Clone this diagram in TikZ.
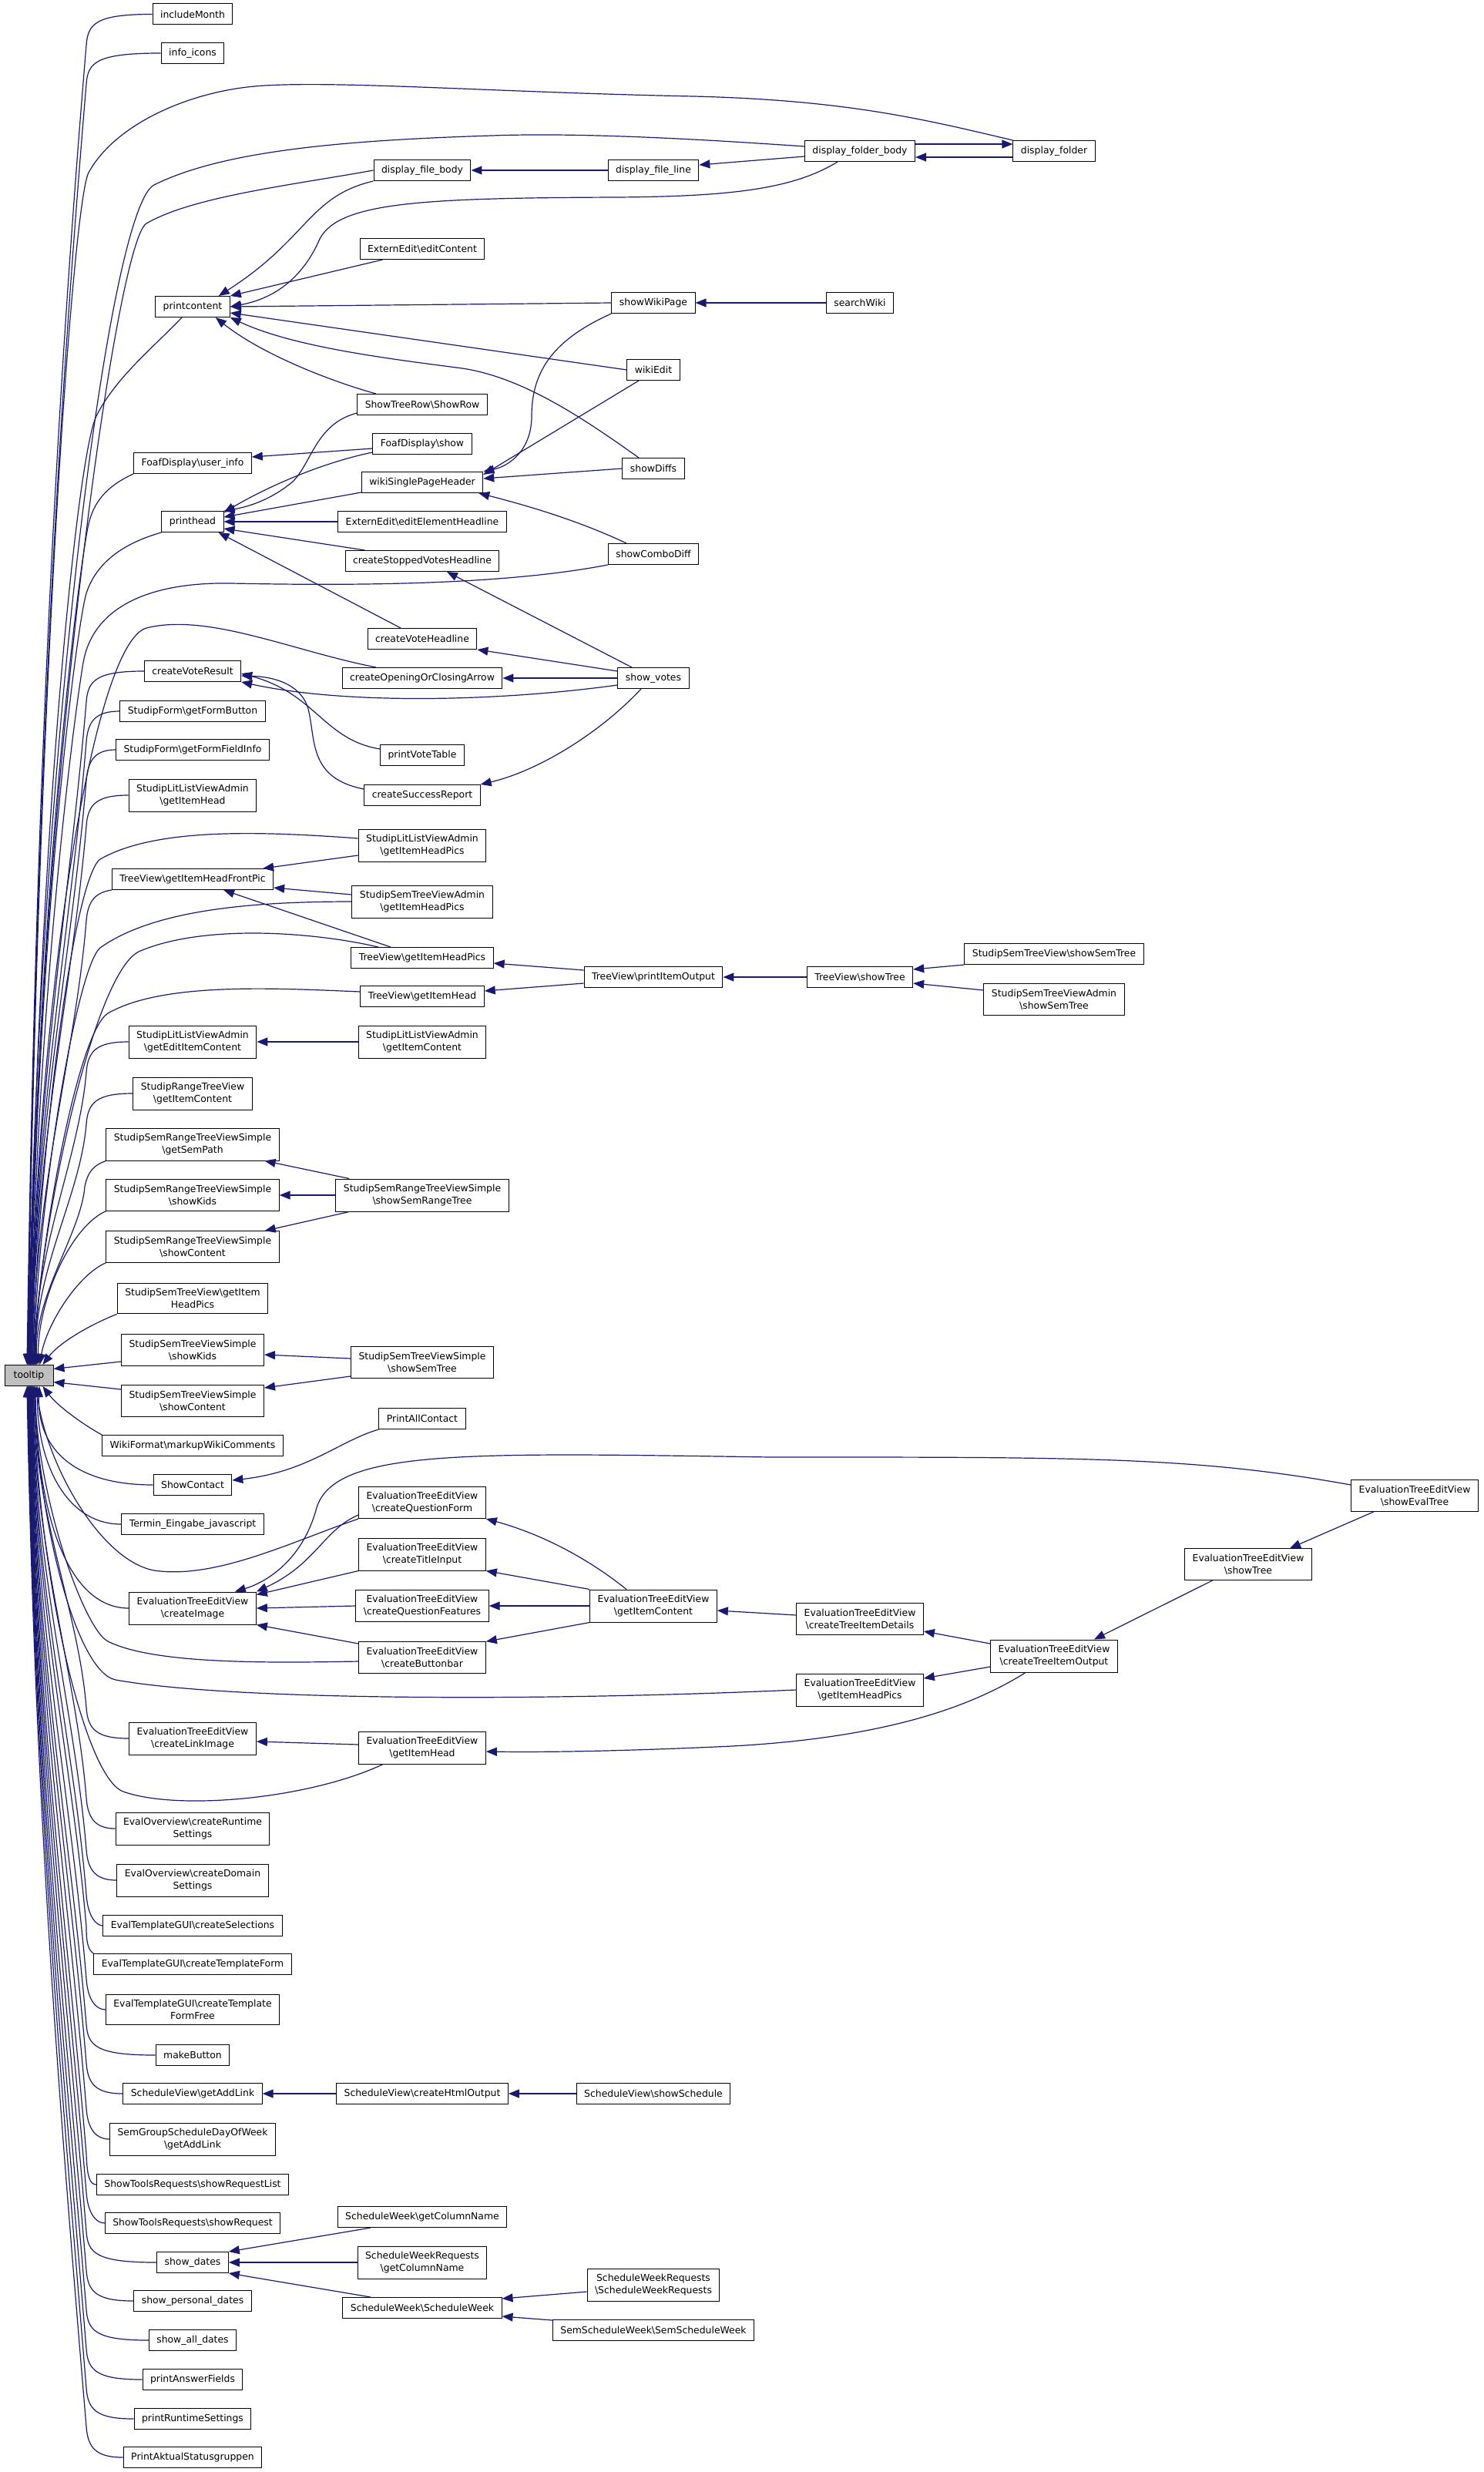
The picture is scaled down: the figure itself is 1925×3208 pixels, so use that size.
\documentclass[tikz,border=0pt]{standalone}
\usepackage{fontspec}
\setmainfont{DejaVu Sans}
\usetikzlibrary{arrows.meta}
\definecolor{edgeblue}{RGB}{25,25,112}
\definecolor{rootgray}{RGB}{191,191,191}
\newcommand{\bsl}{\textbackslash}

\begin{document}
\begin{tikzpicture}[x=1pt, y=1pt, every node/.style={font=\fontsize{12.4}{16}\selectfont},
  fn/.style={draw=black, fill=white, line width=1pt, inner xsep=10pt, inner ysep=7pt, minimum height=27pt, align=center},
  callarrow/.style={draw=edgeblue, line width=1.2pt, -{Triangle[length=14pt,width=11pt]}}]
\useasboundingbox (0,0) rectangle (1925,-3208);

\node[fn, fill=rootgray, minimum width=63pt] (tooltip) at (37.5,-1785) {tooltip};
\node[fn] (includeMonth) at (250,-18.5) {includeMonth};
\node[fn] (infoIcons) at (250,-69) {info\_icons};
\node[fn] (displayFolder) at (1368,-196) {display\_folder};
\node[fn] (displayFolderBody) at (1116,-196) {display\_folder\_body};
\node[fn] (displayFileBody) at (548,-221) {display\_file\_body};
\node[fn] (displayFileLine) at (848,-221) {display\_file\_line};
\node[fn] (editContent) at (548,-323) {ExternEdit\bsl editContent};
\node[fn] (printcontent) at (250,-398) {printcontent};
\node[fn] (showWikiPage) at (848,-393) {showWikiPage};
\node[fn] (searchWiki) at (1116,-393) {searchWiki};
\node[fn] (wikiEdit) at (848,-480) {wikiEdit};
\node[fn] (showRow) at (548,-525) {ShowTreeRow\bsl ShowRow};
\node[fn] (foafShow) at (548,-576) {FoafDisplay\bsl show};
\node[fn] (userInfo) at (250,-601) {FoafDisplay\bsl user\_info};
\node[fn] (showDiffs) at (848,-608) {showDiffs};
\node[fn] (wikiHeader) at (548,-626) {wikiSinglePageHeader};
\node[fn] (printhead) at (250,-677) {printhead};
\node[fn] (editHeadline) at (548,-677) {ExternEdit\bsl editElementHeadline};
\node[fn] (stoppedVotes) at (548,-728) {createStoppedVotesHeadline};
\node[fn] (showComboDiff) at (848,-719) {showComboDiff};
\node[fn] (voteHeadline) at (548,-829) {createVoteHeadline};
\node[fn] (voteResult) at (250,-871) {createVoteResult};
\node[fn] (openClose) at (548,-880) {createOpeningOrClosingArrow};
\node[fn] (showVotes) at (848,-880) {show\_votes};
\node[fn] (formButton) at (250,-923) {StudipForm\bsl getFormButton};
\node[fn] (formFieldInfo) at (250,-973) {StudipForm\bsl getFormFieldInfo};
\node[fn] (voteTable) at (548,-980) {printVoteTable};
\node[fn] (litItemHead) at (250,-1032) {StudipLitListViewAdmin\\\bsl getItemHead};
\node[fn] (successReport) at (548,-1032) {createSuccessReport};
\node[fn] (litHeadPics) at (548,-1097) {StudipLitListViewAdmin\\\bsl getItemHeadPics};
\node[fn] (frontPic) at (250,-1141) {TreeView\bsl getItemHeadFrontPic};
\node[fn] (semAdminHeadPics) at (548,-1170) {StudipSemTreeViewAdmin\\\bsl getItemHeadPics};
\node[fn] (treeHeadPics) at (548,-1243) {TreeView\bsl getItemHeadPics};
\node[fn] (printItemOutput) at (848,-1268) {TreeView\bsl printItemOutput};
\node[fn] (treeShowTree) at (1116,-1268) {TreeView\bsl showTree};
\node[fn] (semShowTree) at (1368,-1238) {StudipSemTreeView\bsl showSemTree};
\node[fn] (semAdminShowTree) at (1368,-1297) {StudipSemTreeViewAdmin\\\bsl showSemTree};
\node[fn] (treeItemHead) at (548,-1293) {TreeView\bsl getItemHead};
\node[fn] (litEditContent) at (250,-1352) {StudipLitListViewAdmin\\\bsl getEditItemContent};
\node[fn] (litItemContent) at (548,-1352) {StudipLitListViewAdmin\\\bsl getItemContent};
\node[fn] (rangeItemContent) at (250,-1419) {StudipRangeTreeView\\\bsl getItemContent};
\node[fn] (rangeSemPath) at (250,-1485) {StudipSemRangeTreeViewSimple\\\bsl getSemPath};
\node[fn] (rangeShowKids) at (250,-1551) {StudipSemRangeTreeViewSimple\\\bsl showKids};
\node[fn] (rangeShowTree) at (548,-1551) {StudipSemRangeTreeViewSimple\\\bsl showSemRangeTree};
\node[fn] (rangeShowContent) at (250,-1618) {StudipSemRangeTreeViewSimple\\\bsl showContent};
\node[fn] (semHeadPics) at (250,-1685) {StudipSemTreeView\bsl getItem\\HeadPics};
\node[fn] (simpleShowKids) at (250,-1752) {StudipSemTreeViewSimple\\\bsl showKids};
\node[fn] (simpleShowTree) at (548,-1768) {StudipSemTreeViewSimple\\\bsl showSemTree};
\node[fn] (simpleShowContent) at (250,-1818) {StudipSemTreeViewSimple\\\bsl showContent};
\node[fn] (printAllContact) at (548,-1841) {PrintAllContact};
\node[fn] (markupComments) at (250,-1876) {WikiFormat\bsl markupWikiComments};
\node[fn] (showContact) at (250,-1927) {ShowContact};
\node[fn] (showEvalTree) at (1836,-1941) {EvaluationTreeEditView\\\bsl showEvalTree};
\node[fn] (questionForm) at (548,-1950) {EvaluationTreeEditView\\\bsl createQuestionForm};
\node[fn] (terminJs) at (250,-1978) {Termin\_Eingabe\_javascript};
\node[fn] (evalShowTree) at (1620,-2030) {EvaluationTreeEditView\\\bsl showTree};
\node[fn] (titleInput) at (548,-2017) {EvaluationTreeEditView\\\bsl createTitleInput};
\node[fn] (createImage) at (250,-2087) {EvaluationTreeEditView\\\bsl createImage};
\node[fn] (questionFeatures) at (548,-2084) {EvaluationTreeEditView\\\bsl createQuestionFeatures};
\node[fn] (evalItemContent) at (848,-2084) {EvaluationTreeEditView\\\bsl getItemContent};
\node[fn] (itemDetails) at (1116,-2101) {EvaluationTreeEditView\\\bsl createTreeItemDetails};
\node[fn] (itemOutput) at (1368,-2149) {EvaluationTreeEditView\\\bsl createTreeItemOutput};
\node[fn] (buttonbar) at (548,-2151) {EvaluationTreeEditView\\\bsl createButtonbar};
\node[fn] (evalHeadPics) at (1116,-2193) {EvaluationTreeEditView\\\bsl getItemHeadPics};
\node[fn] (linkImage) at (250,-2256) {EvaluationTreeEditView\\\bsl createLinkImage};
\node[fn] (evalItemHead) at (548,-2268) {EvaluationTreeEditView\\\bsl getItemHead};
\node[fn] (runtimeSettings) at (250,-2373) {EvalOverview\bsl createRuntime\\Settings};
\node[fn] (domainSettings) at (250,-2440) {EvalOverview\bsl createDomain\\Settings};
\node[fn] (createSelections) at (250,-2499) {EvalTemplateGUI\bsl createSelections};
\node[fn] (templateForm) at (250,-2549) {EvalTemplateGUI\bsl createTemplateForm};
\node[fn] (templateFormFree) at (250,-2608) {EvalTemplateGUI\bsl createTemplate\\FormFree};
\node[fn] (makeButton) at (250,-2667) {makeButton};
\node[fn] (getAddLink) at (250,-2717) {ScheduleView\bsl getAddLink};
\node[fn] (htmlOutput) at (548,-2717) {ScheduleView\bsl createHtmlOutput};
\node[fn] (showSchedule) at (848,-2717) {ScheduleView\bsl showSchedule};
\node[fn] (groupAddLink) at (250,-2776) {SemGroupScheduleDayOfWeek\\\bsl getAddLink};
\node[fn] (requestList) at (250,-2835) {ShowToolsRequests\bsl showRequestList};
\node[fn] (showRequest) at (250,-2885) {ShowToolsRequests\bsl showRequest};
\node[fn] (columnName) at (548,-2877) {ScheduleWeek\bsl getColumnName};
\node[fn] (showDates) at (250,-2936) {show\_dates};
\node[fn] (reqColumnName) at (548,-2936) {ScheduleWeekRequests\\\bsl getColumnName};
\node[fn] (weekRequests) at (848,-2965) {ScheduleWeekRequests\\\bsl ScheduleWeekRequests};
\node[fn] (scheduleWeek) at (548,-2995) {ScheduleWeek\bsl ScheduleWeek};
\node[fn] (semScheduleWeek) at (848,-3024) {SemScheduleWeek\bsl SemScheduleWeek};
\node[fn] (personalDates) at (250,-2986) {show\_personal\_dates};
\node[fn] (allDates) at (250,-3037) {show\_all\_dates};
\node[fn] (answerFields) at (250,-3088) {printAnswerFields};
\node[fn] (printSettings) at (250,-3139) {printRuntimeSettings};
\node[fn] (statusGroups) at (250,-3189) {PrintAktualStatusgruppen};

\draw[callarrow] (includeMonth.west) .. controls (125,-18.5) and (114,-30.5) .. (112,-58.5) .. controls (69,-572) and (45,-1086) .. (tooltip.100);
\draw[callarrow] (infoIcons.west) .. controls (125,-69) and (114,-81) .. (112,-109) .. controls (70,-608) and (45,-1106) .. (tooltip.97);
\draw[callarrow] (displayFolder.north west) .. controls (1200,-155) and (1100,-130) .. (900,-125) .. controls (650,-120) and (450,-105) .. (344,-111) .. controls (250,-116) and (150,-160) .. (115,-224) .. controls (95,-261) and (48,-900) .. (tooltip.95);
\draw[callarrow] ([yshift=6pt]displayFolderBody.west) .. controls (900,-180) and (750,-172) .. (638,-176) .. controls (450,-182) and (290,-195) .. (200,-240) .. controls (140,-270) and (48,-1000) .. (tooltip.93);
\draw[callarrow] (displayFileBody.west) .. controls (380,-240) and (250,-255) .. (190,-290) .. controls (150,-313) and (48,-1050) .. (tooltip.91);
\draw[callarrow] ([xshift=-14pt]printcontent.south) .. controls (200,-450) and (150,-490) .. (125,-540) .. controls (100,-590) and (48,-1100) .. (tooltip.89);
\draw[callarrow] (userInfo.south west) .. controls (140,-630) and (122,-650) .. (115,-680) .. controls (105,-720) and (48,-1150) .. (tooltip.87);
\draw[callarrow] (printhead.south west) .. controls (160,-705) and (125,-730) .. (112,-770) .. controls (100,-810) and (48,-1200) .. (tooltip.85);
\draw[callarrow] (showComboDiff.south west) .. controls (650,-760) and (450,-760) .. (300,-757) .. controls (190,-755) and (120,-790) .. (108,-860) .. controls (96,-930) and (48,-1300) .. (tooltip.83);
\draw[callarrow] ([xshift=-60pt]openClose.north) .. controls (380,-845) and (270,-795) .. (190,-815) .. controls (120,-835) and (48,-1300) .. (tooltip.81);
\draw[callarrow] (voteResult.west) .. controls (125,-871) and (114,-883) .. (112,-911) .. controls (90,-1169) and (45,-1427) .. (tooltip.79);
\draw[callarrow] (formButton.west) .. controls (125,-923) and (114,-935) .. (112,-963) .. controls (92,-1206) and (45,-1448) .. (tooltip.77);
\draw[callarrow] (formFieldInfo.west) .. controls (125,-973) and (114,-985) .. (112,-1013) .. controls (93,-1241) and (45,-1468) .. (tooltip.75);
\draw[callarrow] (litItemHead.west) .. controls (125,-1032) and (114,-1044) .. (112,-1072) .. controls (94,-1282) and (45,-1492) .. (tooltip.73);
\draw[callarrow] ([yshift=9pt]litHeadPics.west) .. controls (330,-1078) and (200,-1075) .. (130,-1115) .. controls (95,-1140) and (50,-1500) .. (tooltip.71);
\draw[callarrow] (frontPic.south west) .. controls (125,-1158) and (114,-1168) .. (112,-1195) .. controls (98,-1368) and (45,-1541) .. (tooltip.69);
\draw[callarrow] (semAdminHeadPics.west) .. controls (330,-1170) and (200,-1180) .. (130,-1230) .. controls (100,-1255) and (50,-1550) .. (tooltip.67);
\draw[callarrow] ([xshift=-57pt]treeHeadPics.north) .. controls (400,-1208) and (260,-1200) .. (180,-1235) .. controls (120,-1265) and (50,-1600) .. (tooltip.65);
\draw[callarrow] ([yshift=6pt]treeItemHead.west) .. controls (350,-1282) and (210,-1275) .. (140,-1315) .. controls (100,-1340) and (50,-1620) .. (tooltip.63);
\draw[callarrow] (litEditContent.west) .. controls (125,-1352) and (114,-1364) .. (112,-1392) .. controls (102,-1506) and (45,-1620) .. (tooltip.60);
\draw[callarrow] (rangeItemContent.west) .. controls (125,-1419) and (114,-1431) .. (112,-1459) .. controls (104,-1553) and (45,-1646) .. (tooltip.57);
\draw[callarrow] (rangeSemPath.south west) .. controls (122,-1512) and (114,-1520) .. (110,-1540) .. controls (105,-1600) and (45,-1680) .. (tooltip.54);
\draw[callarrow] (rangeShowKids.south west) .. controls (95,-1590) and (50,-1680) .. (tooltip.50);
\draw[callarrow] (rangeShowContent.south west) .. controls (100,-1655) and (60,-1720) .. (tooltip.45);
\draw[callarrow] (semHeadPics.south west) .. controls (110,-1722) and (75,-1745) .. (tooltip.38);
\draw[callarrow] ([yshift=-15pt]simpleShowKids.west) -- (tooltip.15);
\draw[callarrow] ([yshift=15pt]simpleShowContent.west) -- (tooltip.-15);
\draw[callarrow] (markupComments.north west) .. controls (110,-1850) and (75,-1825) .. (tooltip.-38);
\draw[callarrow] (showContact.west) .. controls (86,-1927) and (48,-1871) .. (tooltip.-46);
\draw[callarrow] (terminJs.west) .. controls (86,-1978) and (48,-1899) .. (tooltip.-52);
\draw[callarrow] (questionForm.south west) .. controls (380,-2000) and (280,-2050) .. (200,-2038) .. controls (130,-2025) and (60,-1900) .. (tooltip.-56);
\draw[callarrow] (createImage.west) .. controls (86,-2087) and (48,-1960) .. (tooltip.-59);
\draw[callarrow] ([yshift=-5pt]buttonbar.west) .. controls (350,-2158) and (200,-2160) .. (140,-2130) .. controls (110,-2115) and (50,-1950) .. (tooltip.-62);
\draw[callarrow] (evalHeadPics.west) .. controls (700,-2208) and (300,-2207) .. (150,-2180) .. controls (100,-2170) and (50,-1980) .. (tooltip.-64);
\draw[callarrow] (linkImage.west) .. controls (125,-2256) and (114,-2244) .. (112,-2216) .. controls (102,-2091) and (45,-1966) .. (tooltip.-66);
\draw[callarrow] ([xshift=32pt]evalItemHead.south west) .. controls (400,-2335) and (230,-2350) .. (160,-2325) .. controls (110,-2307) and (50,-2050) .. (tooltip.-68);
\draw[callarrow] (runtimeSettings.west) .. controls (125,-2373) and (114,-2361) .. (112,-2333) .. controls (99,-2173) and (45,-2012) .. (tooltip.-70);
\draw[callarrow] (domainSettings.west) .. controls (125,-2440) and (114,-2428) .. (112,-2400) .. controls (97,-2220) and (45,-2039) .. (tooltip.-72);
\draw[callarrow] (createSelections.west) .. controls (125,-2499) and (114,-2487) .. (112,-2459) .. controls (96,-2261) and (45,-2063) .. (tooltip.-74);
\draw[callarrow] (templateForm.north west) .. controls (114,-2530) and (112,-2520) .. (112,-2500) .. controls (94,-2290) and (45,-2079) .. (tooltip.-76);
\draw[callarrow] (templateFormFree.west) .. controls (125,-2608) and (114,-2596) .. (112,-2568) .. controls (93,-2337) and (45,-2106) .. (tooltip.-78);
\draw[callarrow] (makeButton.west) .. controls (125,-2667) and (114,-2655) .. (112,-2627) .. controls (91,-2379) and (45,-2130) .. (tooltip.-80);
\draw[callarrow] (getAddLink.west) .. controls (125,-2717) and (114,-2705) .. (112,-2677) .. controls (90,-2414) and (45,-2150) .. (tooltip.-82);
\draw[callarrow] (groupAddLink.west) .. controls (125,-2776) and (114,-2764) .. (112,-2736) .. controls (89,-2455) and (45,-2174) .. (tooltip.-84);
\draw[callarrow] (requestList.west) .. controls (116,-2835) and (113,-2823) .. (112,-2795) .. controls (87,-2496) and (45,-2197) .. (tooltip.-86);
\draw[callarrow] (showRequest.west) .. controls (125,-2885) and (114,-2873) .. (112,-2845) .. controls (86,-2531) and (45,-2217) .. (tooltip.-88);
\draw[callarrow] (showDates.west) .. controls (125,-2936) and (114,-2924) .. (112,-2896) .. controls (85,-2567) and (45,-2238) .. (tooltip.-90);
\draw[callarrow] (personalDates.west) .. controls (125,-2986) and (114,-2974) .. (112,-2946) .. controls (83,-2602) and (45,-2258) .. (tooltip.-92);
\draw[callarrow] (allDates.west) .. controls (125,-3037) and (114,-3025) .. (112,-2997) .. controls (82,-2638) and (45,-2278) .. (tooltip.-94);
\draw[callarrow] (answerFields.west) .. controls (125,-3088) and (114,-3076) .. (112,-3048) .. controls (81,-2673) and (45,-2298) .. (tooltip.-96);
\draw[callarrow] (printSettings.west) .. controls (125,-3139) and (114,-3127) .. (112,-3099) .. controls (80,-2709) and (45,-2319) .. (tooltip.-98);
\draw[callarrow] (statusGroups.west) .. controls (125,-3189) and (114,-3177) .. (112,-3149) .. controls (78,-2744) and (45,-2339) .. (tooltip.-100);

\draw[callarrow] ([yshift=9pt]displayFolderBody.east) -- ([yshift=9pt]displayFolder.west);
\draw[callarrow] ([yshift=-8pt]displayFolder.west) -- ([yshift=-8pt]displayFolderBody.east);
\draw[callarrow] (displayFileLine.west) -- (displayFileBody.east);
\draw[callarrow] ([yshift=-7pt]displayFolderBody.west) -- ([yshift=7pt]displayFileLine.east);
\draw[callarrow] (displayFileBody.south west) .. controls (400,-255) and (400,-310) .. ([xshift=-15pt]printcontent.north east);
\draw[callarrow] ([xshift=-29pt]displayFolderBody.south) .. controls (1030,-245) and (950,-255) .. (800,-256) .. controls (550,-257) and (440,-262) .. (415,-310) .. controls (400,-345) and (370,-385) .. (printcontent.east);
\draw[callarrow] ([xshift=30pt]editContent.south west) -- (printcontent.north east);
\draw[callarrow] (searchWiki.west) -- (showWikiPage.east);
\draw[callarrow] (showWikiPage.west) -- (printcontent.east);
\draw[callarrow] (wikiEdit.west) -- ([yshift=-8pt]printcontent.east);
\draw[callarrow] ([xshift=-19pt]showDiffs.north) .. controls (760,-545) and (680,-490) .. (600,-478) .. controls (500,-465) and (380,-450) .. (printcontent.south east);
\draw[callarrow] ([xshift=-60pt]showRow.north) .. controls (430,-495) and (340,-460) .. ([xshift=-19pt]printcontent.south east);
\draw[callarrow] (showWikiPage.south west) .. controls (720,-440) and (690,-480) .. (690,-540) .. controls (690,-585) and (660,-605) .. (wikiHeader.north east);
\draw[callarrow] ([xshift=-19pt]wikiEdit.south) -- ([yshift=-4pt]wikiHeader.north east);
\draw[callarrow] (showDiffs.west) -- ([yshift=5pt]wikiHeader.east);
\draw[callarrow] ([xshift=-35pt]showComboDiff.north) .. controls (760,-680) and (700,-660) .. ([xshift=-6pt]wikiHeader.south east);
\draw[callarrow] ([yshift=-6pt]foafShow.west) -- ([yshift=8pt]userInfo.east);
\draw[callarrow] ([yshift=-11pt]showRow.west) .. controls (410,-550) and (405,-600) .. (380,-625) .. controls (350,-650) and (320,-658) .. (printhead.north east);
\draw[callarrow] ([yshift=-11pt]foafShow.west) .. controls (420,-600) and (350,-630) .. ([yshift=-2pt]printhead.north east);
\draw[callarrow] ([yshift=-13pt]wikiHeader.west) -- ([yshift=6pt]printhead.east);
\draw[callarrow] (editHeadline.west) -- (printhead.east);
\draw[callarrow] ([xshift=26pt]stoppedVotes.north west) -- ([yshift=-9pt]printhead.east);
\draw[callarrow] ([xshift=-28pt]voteHeadline.north) -- ([xshift=-7pt]printhead.south east);
\draw[callarrow] ([xshift=-28pt]showVotes.north) -- ([xshift=32pt]stoppedVotes.south);
\draw[callarrow] ([yshift=9pt]showVotes.west) -- (voteHeadline.south east);
\draw[callarrow] (showVotes.west) -- (openClose.east);
\draw[callarrow] ([yshift=-9pt]showVotes.west) .. controls (650,-910) and (450,-915) .. (voteResult.south east);
\draw[callarrow] ([yshift=8pt]voteTable.west) .. controls (420,-960) and (410,-900) .. ([yshift=-3pt]voteResult.east);
\draw[callarrow] ([yshift=8pt]successReport.west) .. controls (400,-1010) and (410,-960) .. (400,-920) .. controls (390,-885) and (350,-878) .. ([yshift=-6pt]voteResult.east);
\draw[callarrow] ([xshift=-16pt]showVotes.south) .. controls (780,-950) and (700,-1000) .. (successReport.north east);
\draw[callarrow] ([yshift=-13pt]litHeadPics.west) -- ([xshift=-14pt]frontPic.north east);
\draw[callarrow] ([yshift=9pt]semAdminHeadPics.west) -- ([yshift=-11pt]frontPic.east);
\draw[callarrow] ([xshift=-41pt]treeHeadPics.north) -- ([xshift=-65pt]frontPic.south east);
\draw[callarrow] ([yshift=9pt]printItemOutput.west) -- ([yshift=-7pt]treeHeadPics.east);
\draw[callarrow] ([yshift=-8pt]printItemOutput.west) -- ([yshift=7pt]treeItemHead.east);
\draw[callarrow] (treeShowTree.west) -- (printItemOutput.east);
\draw[callarrow] (semShowTree.south west) -- ([yshift=10pt]treeShowTree.east);
\draw[callarrow] ([yshift=12pt]semAdminShowTree.west) -- ([yshift=-8pt]treeShowTree.east);
\draw[callarrow] (litItemContent.west) -- (litEditContent.east);
\draw[callarrow] ([xshift=18pt]rangeShowTree.north west) -- ([xshift=-19pt]rangeSemPath.south east);
\draw[callarrow] (rangeShowTree.west) -- (rangeShowKids.east);
\draw[callarrow] ([xshift=18pt]rangeShowTree.south west) -- ([xshift=-19pt]rangeShowContent.north east);
\draw[callarrow] ([yshift=5pt]simpleShowTree.west) -- ([yshift=-6pt]simpleShowKids.east);
\draw[callarrow] ([yshift=-18pt]simpleShowTree.west) -- ([yshift=17pt]simpleShowContent.east);
\draw[callarrow] (printAllContact.south west) .. controls (440,-1870) and (400,-1910) .. ([yshift=6pt]showContact.east);
\draw[callarrow] ([yshift=14pt]showEvalTree.west) .. controls (1550,-1890) and (1400,-1891) .. (1000,-1891) .. controls (600,-1885) and (430,-1880) .. (410,-1960) .. controls (390,-2030) and (340,-2055) .. ([xshift=-28pt]createImage.north east);
\draw[callarrow] ([yshift=5pt]questionForm.south west) .. controls (420,-1985) and (410,-2030) .. (createImage.north east);
\draw[callarrow] (titleInput.south west) -- ([yshift=-4pt]createImage.north east);
\draw[callarrow] (questionFeatures.west) -- (createImage.east);
\draw[callarrow] ([yshift=18pt]buttonbar.west) -- (createImage.south east);
\draw[callarrow] ([xshift=-35pt]evalItemContent.north) .. controls (760,-2020) and (700,-1990) .. (questionForm.south east);
\draw[callarrow] (evalItemContent.north west) -- (titleInput.south east);
\draw[callarrow] (evalItemContent.west) -- (questionFeatures.east);
\draw[callarrow] (evalItemContent.south west) -- (buttonbar.north east);
\draw[callarrow] ([yshift=5pt]itemDetails.west) -- ([yshift=-6pt]evalItemContent.east);
\draw[callarrow] ([yshift=16pt]itemOutput.west) -- ([yshift=-16pt]itemDetails.east);
\draw[callarrow] ([yshift=-14pt]itemOutput.west) -- ([yshift=15pt]evalHeadPics.east);
\draw[callarrow] ([xshift=-46pt]evalShowTree.south) -- ([xshift=52pt]itemOutput.north);
\draw[callarrow] ([xshift=-53pt]showEvalTree.south) -- ([xshift=54pt]evalShowTree.north);
\draw[callarrow] ([xshift=-37pt]itemOutput.south) .. controls (1260,-2215) and (1150,-2255) .. (950,-2266) .. controls (800,-2273) and (700,-2274) .. ([yshift=-5pt]evalItemHead.east);
\draw[callarrow] ([yshift=4pt]evalItemHead.west) -- ([yshift=-4pt]linkImage.east);
\draw[callarrow] (htmlOutput.west) -- (getAddLink.east);
\draw[callarrow] (showSchedule.west) -- (htmlOutput.east);
\draw[callarrow] ([xshift=-67pt]columnName.south) -- (showDates.north east);
\draw[callarrow] (reqColumnName.west) -- (showDates.east);
\draw[callarrow] ([xshift=-67pt]scheduleWeek.north) -- (showDates.south east);
\draw[callarrow] ([yshift=-9pt]weekRequests.west) -- ([yshift=12pt]scheduleWeek.east);
\draw[callarrow] ([yshift=13pt]semScheduleWeek.west) -- ([yshift=-11pt]scheduleWeek.east);
\end{tikzpicture}
\end{document}
